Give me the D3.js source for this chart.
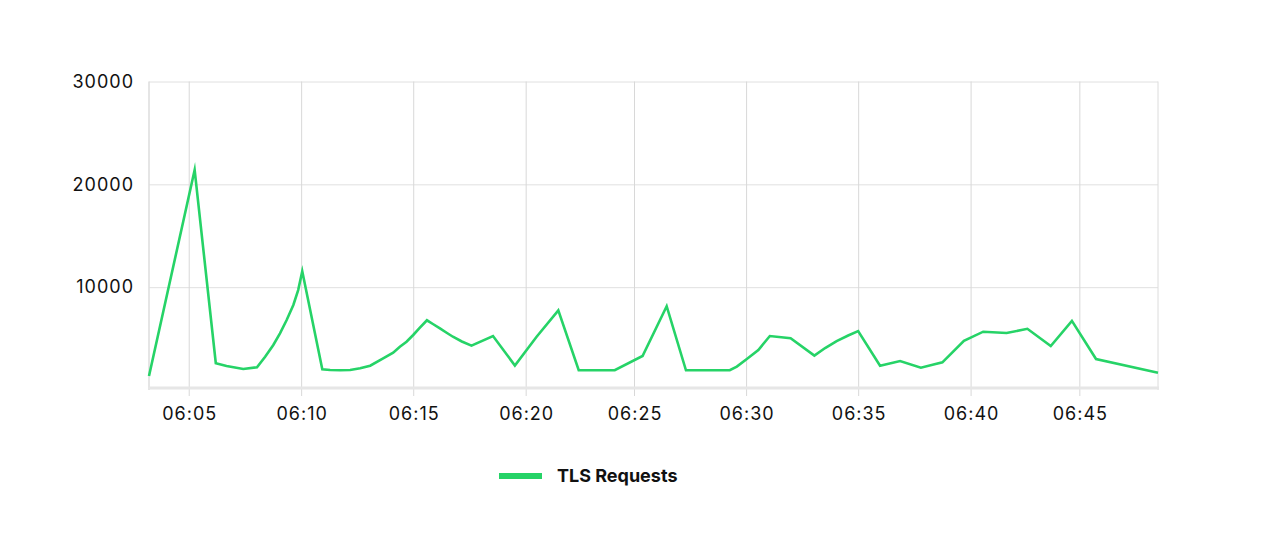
<!DOCTYPE html>
<html>
<head>
<meta charset="utf-8">
<script src="https://cdn.jsdelivr.net/npm/d3@7/dist/d3.min.js"></script>
<style>
  html, body { margin: 0; padding: 0; background: #ffffff; }
  svg { display: block; font-family: "Inter", "Lato", sans-serif; }
</style>
</head>
<body>
<svg id="chart" width="1275" height="547"></svg>
<script>
// ---- data ----
const times = ["06:03:13","06:05:16","06:06:13","06:06:42","06:07:27","06:08:04","06:08:26","06:08:48","06:09:06","06:09:24",
  "06:09:42","06:09:55","06:10:06","06:11:00","06:11:21","06:11:48","06:12:15","06:12:42","06:13:09","06:13:44",
  "06:14:11","06:14:29","06:14:47","06:15:05","06:15:23","06:15:42","06:15:58","06:16:17","06:16:35","06:16:52",
  "06:17:16","06:17:42","06:18:40","06:19:39","06:20:37","06:21:36","06:22:31","06:24:08","06:25:23","06:26:28",
  "06:27:20","06:29:18","06:29:37","06:30:04","06:30:35","06:31:06","06:32:02","06:33:06","06:33:35","06:34:06",
  "06:34:37","06:35:04","06:36:03","06:36:57","06:37:53","06:38:51","06:39:49","06:40:41","06:41:44","06:42:40",
  "06:43:43","06:44:40","06:45:45","06:48:32"];
const tlsRequests = [1360,21400,2600,2330,2040,2210,3240,4380,5510,6810,
  8265,9720,11550,2010,1945,1920,1945,2110,2360,3080,
  3630,4210,4700,5350,6060,6780,6420,6000,5570,5180,
  4720,4310,5250,2380,5150,7750,1920,1920,3310,8150,
  1920,1920,2270,3010,3890,5250,5030,3340,4080,4760,
  5300,5720,2360,2820,2170,2690,4790,5670,5540,5950,
  4280,6720,3010,1680];
const xTickTimes = ["06:05:00","06:10:03","06:15:05","06:20:08","06:25:00","06:30:02","06:35:04","06:40:07","06:45:00"];
const yTickValues = [10000, 20000, 30000];
const seriesName = "TLS Requests";

(function () {
// ---- layout ----
const pLeft = 149, pRight = 1158, pTop = 81.5, pBottom = 390;
const green = "#26d367";
const parse = d3.timeParse("%H:%M:%S");
const dates = times.map(parse);
const data = dates.map((d, i) => ({ t: d, v: tlsRequests[i] }));

const svg = d3.select("#chart");
svg.append("rect").attr("width", 1275).attr("height", 547).attr("fill", "#fff");

const x = d3.scaleTime().domain(d3.extent(dates)).range([pLeft, pRight]);
const y = d3.scaleLinear().domain([0, 30000]).range([pBottom, pTop]);

// horizontal gridlines + y labels
const yAxis = d3.axisLeft(y).tickValues(yTickValues).tickFormat(d3.format("d"))
  .tickSize(-(pRight - pLeft)).tickPadding(15);
const gy = svg.append("g").attr("transform", `translate(${pLeft},0)`).call(yAxis);
gy.select(".domain").remove();
gy.selectAll(".tick line").attr("stroke", "#e0e0e0").attr("stroke-width", 1);
gy.selectAll(".tick text").attr("fill", "#111").style("font-size", "18px")
  .style("letter-spacing", "1px").style("font-family", "Inter, Lato, sans-serif");

// vertical gridlines + x labels
const tickBottom = 396;
const xAxis = d3.axisBottom(x).tickValues(xTickTimes.map(parse))
  .tickFormat(d3.timeFormat("%H:%M")).tickSize(-(tickBottom - pTop)).tickPadding(11);
const gx = svg.append("g").attr("transform", `translate(0,${tickBottom})`).call(xAxis);
gx.select(".domain").remove();
gx.selectAll(".tick line").attr("stroke", "#d8d8d8").attr("stroke-width", 1);
gx.selectAll(".tick text").attr("fill", "#111").style("font-size", "18px")
  .style("letter-spacing", "1px").attr("dx", "0.5")
  .style("font-family", "Inter, Lato, sans-serif");

// frame lines
svg.append("line").attr("x1", pLeft).attr("x2", pLeft).attr("y1", pTop).attr("y2", pBottom)
  .attr("stroke", "#dcdcdc").attr("stroke-width", 1.5);
svg.append("line").attr("x1", pRight).attr("x2", pRight).attr("y1", pTop).attr("y2", pBottom)
  .attr("stroke", "#dcdcdc").attr("stroke-width", 1);
svg.append("line").attr("x1", pLeft - 1).attr("x2", pRight + 1).attr("y1", y(0) - 2).attr("y2", y(0) - 2)
  .attr("stroke", "#e6e6e6").attr("stroke-width", 3);

// series line
const line = d3.line().x(d => x(d.t)).y(d => y(d.v));
svg.append("path").datum(data).attr("d", line)
  .attr("fill", "none").attr("stroke", green).attr("stroke-width", 2.6)
  .attr("stroke-linejoin", "miter").attr("stroke-miterlimit", 10);

// legend
const lg = svg.append("g");
lg.append("line").attr("x1", 499).attr("x2", 542).attr("y1", 476).attr("y2", 476)
  .attr("stroke", green).attr("stroke-width", 6);
lg.append("text").attr("x", 557).attr("y", 482).text(seriesName)
  .attr("fill", "#111").style("font-size", "18px").style("font-weight", "700")
  .style("font-family", "Inter, Lato, sans-serif");
})();
</script>
</body>
</html>
